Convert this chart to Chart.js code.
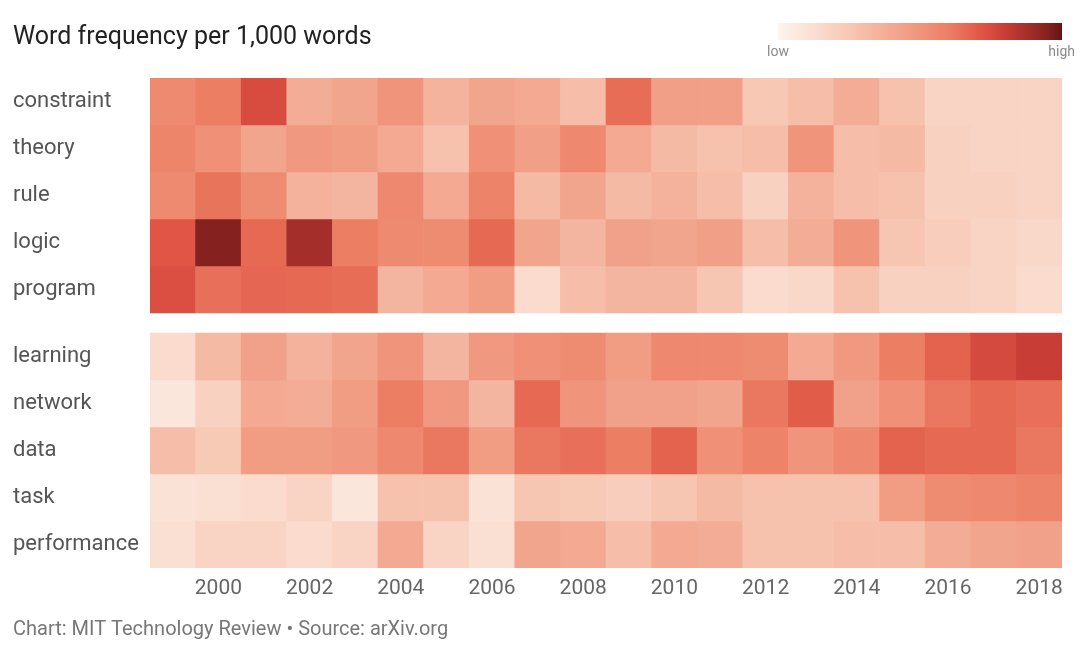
<!DOCTYPE html>
<html>
<head>
<meta charset="utf-8">
<script src="https://cdn.jsdelivr.net/npm/chart.js@4.4.1/dist/chart.umd.min.js"></script>
<style>
  html, body { margin: 0; padding: 0; background: #fff; }
  #wrap { width: 1080px; height: 653px; }
</style>
</head>
<body>
<div id="wrap"><canvas id="heat" width="1080" height="653"></canvas></div>
<script>
const years = [1999, 2000, 2001, 2002, 2003, 2004, 2005, 2006, 2007, 2008,
               2009, 2010, 2011, 2012, 2013, 2014, 2015, 2016, 2017, 2018];

// relative frequency, 0 = low, 100 = high
const constraint  = [55, 60, 75, 38, 42, 50, 35, 42, 40, 30, 65, 45, 45, 25, 30, 38, 28, 18, 18, 18];
const theory      = [57, 52, 42, 48, 46, 40, 28, 52, 45, 56, 40, 32, 28, 30, 50, 30, 32, 20, 18, 18];
const rule        = [55, 63, 54, 36, 34, 56, 40, 58, 32, 42, 32, 36, 30, 20, 36, 30, 28, 20, 20, 18];
const logic       = [72, 95, 66, 88, 60, 55, 54, 66, 42, 34, 44, 42, 45, 30, 38, 50, 26, 22, 18, 16];
const program     = [74, 64, 67, 66, 65, 34, 40, 46, 14, 30, 34, 34, 26, 14, 16, 28, 20, 20, 18, 14];
const learning    = [14, 32, 44, 36, 42, 50, 34, 48, 52, 54, 46, 56, 56, 54, 40, 48, 60, 68, 76, 80];
const network     = [ 8, 20, 40, 38, 46, 60, 48, 34, 66, 50, 44, 44, 42, 62, 70, 44, 52, 62, 66, 64];
const data        = [30, 24, 46, 46, 48, 56, 62, 46, 62, 64, 60, 68, 52, 58, 50, 56, 68, 66, 66, 62];
const task        = [10, 12, 14, 18,  8, 28, 28, 10, 26, 24, 22, 26, 32, 28, 28, 28, 46, 54, 56, 58];
const performance = [12, 18, 18, 14, 18, 40, 18, 12, 42, 40, 30, 40, 38, 28, 28, 30, 30, 38, 42, 44];

const oldWords = ['constraint', 'theory', 'rule', 'logic', 'program'];
const newWords = ['learning', 'network', 'data', 'task', 'performance'];
const words = oldWords.concat(newWords);
const series = [constraint, theory, rule, logic, program, learning, network, data, task, performance];

// colour ramp low -> high
const stops = [
  [0.00, [253, 244, 239]],
  [0.25, [247, 200, 180]],
  [0.55, [238, 138, 112]],
  [0.60, [236, 126, 100]],
  [0.72, [224, 85, 69]],
  [0.80, [200, 62, 54]],
  [0.95, [133, 34, 31]],
  [1.00, [100, 20, 20]]
];

function heatColor(v) {
  const t = Math.max(0, Math.min(1, v / 100));
  for (let i = 1; i < stops.length; i++) {
    if (t <= stops[i][0]) {
      const [t0, c0] = stops[i - 1];
      const [t1, c1] = stops[i];
      const f = (t - t0) / (t1 - t0);
      const c = c0.map((x, k) => Math.round(x + (c1[k] - x) * f));
      return `rgb(${c[0]}, ${c[1]}, ${c[2]})`;
    }
  }
  return 'rgb(100, 20, 20)';
}

const GAP = 20 / 47; // space between the two panels, in row units
const rowStart = i => (i < oldWords.length ? i : i + GAP);

const datasets = series.map((vals, i) => ({
  label: words[i],
  data: vals.map(() => [rowStart(i), rowStart(i) + 1]),
  backgroundColor: vals.map(heatColor),
  borderWidth: 0,
  grouped: false,
  barPercentage: 1,
  categoryPercentage: 1
}));

const gradientLegend = {
  id: 'gradientLegend',
  afterDraw(chart) {
    const ctx = chart.ctx;
    const x0 = 778, x1 = 1062, y = 23, h = 17;
    const g = ctx.createLinearGradient(x0, 0, x1, 0);
    stops.forEach(([t, c]) => g.addColorStop(t, `rgb(${c[0]}, ${c[1]}, ${c[2]})`));
    ctx.save();
    ctx.fillStyle = g;
    ctx.fillRect(x0, y, x1 - x0, h);
    ctx.fillStyle = '#8a8a8a';
    ctx.font = '14px Roboto';
    ctx.textBaseline = 'middle';
    ctx.textAlign = 'left';
    ctx.fillText('low', 767, 52);
    ctx.textAlign = 'right';
    ctx.fillText('high', 1075, 52);
    ctx.restore();
  }
};

new Chart(document.getElementById('heat'), {
  type: 'bar',
  data: { labels: years, datasets: datasets },
  plugins: [gradientLegend],
  options: {
    responsive: false,
    animation: false,
    layout: { padding: { left: 13, right: 18, top: 0, bottom: 0 } },
    plugins: {
      legend: { display: false },
      tooltip: { enabled: false },
      title: {
        display: true,
        text: 'Word frequency per 1,000 words',
        align: 'start',
        color: '#222',
        font: { family: 'Roboto', size: 25, weight: 'normal' },
        padding: { top: 23, bottom: 25 }
      },
      subtitle: {
        display: true,
        position: 'bottom',
        text: 'Chart: MIT Technology Review \u2022 Source: arXiv.org',
        align: 'start',
        color: '#777',
        font: { family: 'Roboto', size: 20, weight: 'normal' },
        padding: { top: 0, bottom: 11 }
      }
    },
    scales: {
      x: {
        grid: { display: false, drawTicks: false },
        border: { display: false },
        ticks: {
          autoSkip: false,
          maxRotation: 0,
          padding: 8,
          color: '#666',
          font: { family: 'Roboto', size: 21 },
          callback: (value, index) => (years[index] % 2 === 0 ? String(years[index]) : '')
        },
        afterFit: scale => { scale.height = 50; }
      },
      y: {
        min: 0,
        max: words.length + GAP,
        reverse: true,
        grid: { display: false, drawTicks: false },
        border: { display: false },
        afterBuildTicks: axis => {
          axis.ticks = words.map((w, i) => ({ value: rowStart(i) + 0.5 }));
        },
        ticks: {
          crossAlign: 'far',
          padding: 0,
          color: '#555',
          font: { family: 'Roboto', size: 22 },
          callback: (value, index) => words[index]
        },
        afterFit: scale => { scale.width = 137; }
      }
    }
  }
});
</script>
</body>
</html>
